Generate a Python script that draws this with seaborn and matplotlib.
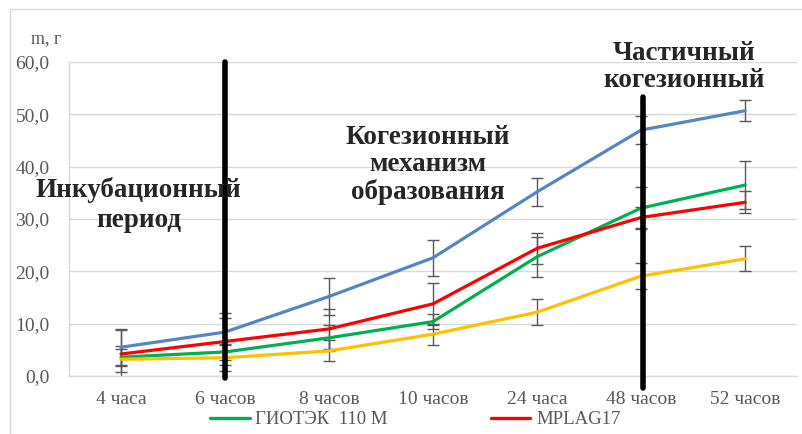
import numpy as np
import pandas as pd
import matplotlib
matplotlib.use("Agg")
import matplotlib.pyplot as plt
from matplotlib.lines import Line2D
import seaborn as sns

# Sample mass over time for four materials
times = ["4 часа", "6 часов", "8 часов", "10 часов", "24 часа", "48 часов", "52 часов"]

blue_vals = [5.5, 8.4, 15.2, 22.6, 35.2, 47.0, 50.7]
green_vals = [3.6, 4.6, 7.3, 10.4, 22.8, 32.1, 36.5]
red_vals = [4.2, 6.6, 9.0, 13.8, 24.4, 30.3, 33.2]
yellow_vals = [3.2, 3.5, 4.8, 8.0, 12.2, 19.1, 22.4]

blue_err = [3.5, 3.6, 3.6, 3.4, 2.7, 2.7, 2.0]
green_err = [1.5, 1.5, 2.5, 1.5, 3.8, 4.0, 4.5]
red_err = [4.5, 4.5, 3.9, 4.0, 3.0, 2.0, 2.1]
yellow_err = [2.5, 2.5, 2.0, 2.0, 2.5, 2.5, 2.4]

series_names = ["Образец 1", "ГИОТЭК  110 М", "MPLAG17", "Образец 4"]
series_colors = ["#5585C4", "#00B050", "#FF0000", "#FFC000"]
legend_names = ["ГИОТЭК  110 М", "MPLAG17"]

phase_labels = ["Инкубационный\nпериод",
                "Когезионный\nмеханизм\nобразования",
                "Частичный\nкогезионный"]

values = [blue_vals, green_vals, red_vals, yellow_vals]
errors = [blue_err, green_err, red_err, yellow_err]

rows = []
for name, vals, errs in zip(series_names, values, errors):
    for i, (t, v, e) in enumerate(zip(times, vals, errs)):
        rows.append({"series": name, "pos": i, "time": t, "mass": v, "err": e})
df = pd.DataFrame(rows)

sns.set_style("white")
plt.rcParams["font.family"] = ["Liberation Serif", "DejaVu Serif"]

fig = plt.figure(figsize=(8.02, 4.34), dpi=100)
ax = fig.add_axes([0.086, 0.1336, 0.908, 0.7234])

# error bars first so lines sit on top
for name, color in zip(series_names, series_colors):
    sub = df[df.series == name]
    ax.errorbar(sub.pos, sub.mass, yerr=sub.err, fmt="none",
                ecolor="#595959", elinewidth=1.0, capsize=4, capthick=1.0,
                zorder=2)

sns.lineplot(data=df, x="pos", y="mass", hue="series", palette=series_colors,
             hue_order=series_names, linewidth=2.3, legend=False, ax=ax,
             zorder=3)

ax.set_xlim(-0.5, len(times) - 0.5)
ax.set_ylim(0, 60)
ax.set_yticks(np.arange(0, 61, 10))
ax.set_yticklabels([f"{v:.1f}".replace(".", ",") for v in np.arange(0, 61, 10)])
ax.set_xticks(range(len(times)))
ax.set_xticklabels(times)
ax.set_xlabel("")
ax.set_ylabel("")
ax.tick_params(axis="both", length=0, labelsize=14, labelcolor="#595959")
ax.tick_params(axis="x", pad=11)
ax.tick_params(axis="y", pad=14)
ax.yaxis.grid(True, color="#D9D9D9", linewidth=1.0)
ax.set_axisbelow(True)
for side in ["top", "right"]:
    ax.spines[side].set_visible(False)
for side in ["left", "bottom"]:
    ax.spines[side].set_color("#D9D9D9")
    ax.spines[side].set_linewidth(1.0)

# phase boundaries
ax.plot([1, 1], [-0.3, 60], color="black", linewidth=4, clip_on=False, zorder=5)
ax.plot([5.02, 5.02], [-2.3, 53.3], color="black", linewidth=4, clip_on=False, zorder=5)

# phase captions
cap_kw = dict(ha="center", va="center", fontsize=19.5, fontweight="bold",
              linespacing=1.1, zorder=6, clip_on=False)
incub_lines = phase_labels[0].split("\n")
ax.text(0.17, 35.5, incub_lines[0], **cap_kw)
ax.text(0.17, 29.8, incub_lines[1], **cap_kw)
ax.text(2.95, 40.3, phase_labels[1], **cap_kw)
ax.text(5.41, 59.1, phase_labels[2], **cap_kw)

# unit label
fig.text(0.057, 0.912, "m, г", ha="center", va="center", fontsize=13,
         color="#595959")

# outer chart frame
fig.add_artist(Line2D([0.0125, 0.0125], [0.0, 0.979], color="#D9D9D9",
                      linewidth=1.0, transform=fig.transFigure))
fig.add_artist(Line2D([0.0125, 1.0], [0.979, 0.979], color="#D9D9D9",
                      linewidth=1.0, transform=fig.transFigure))

handles = [Line2D([0], [0], color=series_colors[1], linewidth=2.4),
           Line2D([0], [0], color=series_colors[2], linewidth=2.4)]
fig.legend(handles, legend_names, loc="center", bbox_to_anchor=(0.518, 0.033),
           ncol=2, frameon=False, fontsize=13.5, handlelength=2.1,
           handletextpad=0.3, columnspacing=5.5, labelcolor="#595959")

fig.savefig("out.png", dpi=100)
